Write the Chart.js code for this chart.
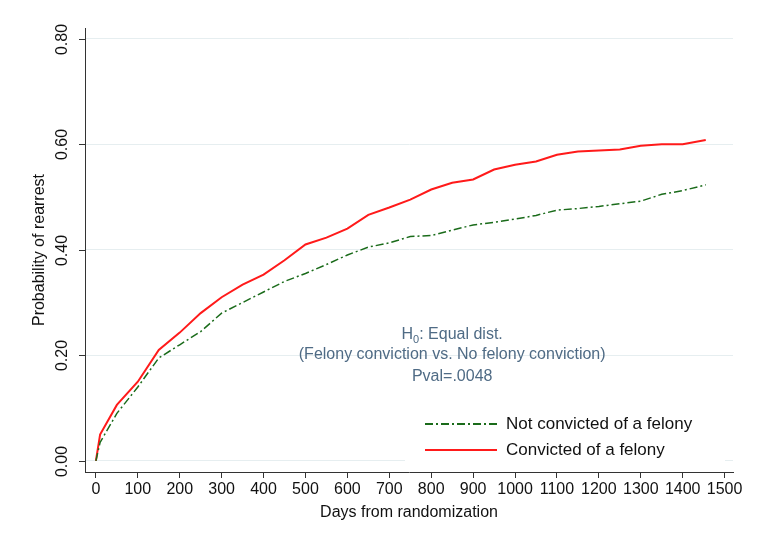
<!DOCTYPE html>
<html><head><meta charset="utf-8">
<script src="https://cdn.jsdelivr.net/npm/chart.js@4"></script>
<style>html,body{margin:0;background:#fff}</style>
</head><body><canvas id="c" width="758" height="544"></canvas>
<script>
const days = [0, 10, 50, 100, 150, 200, 250, 300, 350, 400, 450, 500, 550, 600, 650, 700, 750, 800, 850, 900, 950, 1000, 1050, 1100, 1150, 1200, 1250, 1300, 1350, 1400, 1455];
const felony = [0, 0.05, 0.106, 0.15, 0.21, 0.243, 0.28, 0.31, 0.334, 0.353, 0.38, 0.41, 0.423, 0.44, 0.466, 0.48, 0.495, 0.514, 0.527, 0.533, 0.552, 0.561, 0.567, 0.58, 0.586, 0.588, 0.59, 0.597, 0.6, 0.6, 0.608];
const noFelony = [0, 0.035, 0.09, 0.14, 0.195, 0.22, 0.245, 0.28, 0.3, 0.32, 0.34, 0.355, 0.372, 0.39, 0.405, 0.413, 0.425, 0.427, 0.437, 0.447, 0.452, 0.458, 0.465, 0.475, 0.478, 0.482, 0.487, 0.492, 0.505, 0.512, 0.523];
const yTicks = [0, 0.2, 0.4, 0.6, 0.8];
const xTicks = [0, 100, 200, 300, 400, 500, 600, 700, 800, 900, 1000, 1100, 1200, 1300, 1400, 1500];

const pts = (ys) => days.map((d, i) => ({ x: d, y: ys[i] }));
const font = 'Liberation Sans, Arial, sans-serif';

const overlay = {
  id: 'overlay',
  afterDraw(chart) {
    const ctx = chart.ctx;
    const x = chart.scales.x, y = chart.scales.y;
    ctx.save();
    ctx.fillStyle = '#111';
    ctx.font = '16px ' + font;
    ctx.textAlign = 'center';
    ctx.textBaseline = 'middle';
    // y title, tick marks and tick labels
    const rot = (t, px, py) => {
      ctx.translate(px, py); ctx.rotate(-Math.PI / 2);
      ctx.fillText(t, 0, 0);
      ctx.setTransform(1, 0, 0, 1, 0, 0);
    };
    rot('Probability of rearrest', 40, 250);
    ctx.strokeStyle = '#333'; ctx.lineWidth = 1;
    yTicks.forEach(v => {
      const py = Math.round(y.getPixelForValue(v)) + 0.5;
      ctx.beginPath(); ctx.moveTo(79, py); ctx.lineTo(85, py); ctx.stroke();
      rot(v.toFixed(2), 63, py);
    });
    // annotation
    ctx.fillStyle = '#4f6b85';
    const cx = x.getPixelForValue(850);
    ctx.fillText('(Felony conviction vs. No felony conviction)', cx, 355);
    ctx.fillText('Pval=.0048', cx, 377);
    const a = 'H', b = ': Equal dist.';
    const wa = ctx.measureText(a).width, wb = ctx.measureText(b).width;
    ctx.font = '11px ' + font;
    const ws = ctx.measureText('0').width;
    const sx = cx - (wa + ws + wb) / 2;
    ctx.textAlign = 'left';
    ctx.font = '16px ' + font;
    ctx.fillText(a, sx, 335);
    ctx.font = '11px ' + font;
    ctx.fillText('0', sx + wa, 340);
    ctx.font = '16px ' + font;
    ctx.fillText(b, sx + wa + ws, 335);
    // legend
    ctx.fillStyle = '#fff';
    ctx.fillRect(405, 403, 320, 66);
    const items = [['Not convicted of a felony', '#1a6b1a', [8, 3, 2, 3], 424], ['Convicted of a felony', '#ff1a1a', [], 450]];
    items.forEach(([t, c, dash, ly]) => {
      ctx.strokeStyle = c; ctx.lineWidth = 2; ctx.setLineDash(dash);
      ctx.beginPath(); ctx.moveTo(425, ly); ctx.lineTo(497, ly); ctx.stroke();
      ctx.setLineDash([]);
      ctx.fillStyle = '#111'; ctx.font = '17px ' + font; ctx.textAlign = 'left';
      ctx.fillText(t, 506, ly);
    });
    ctx.restore();
  }
};

new Chart(document.getElementById('c'), {
  type: 'line',
  data: {
    datasets: [
      { label: 'Not convicted of a felony', data: pts(noFelony), borderColor: '#1a6b1a', borderWidth: 1.5, borderDash: [8, 3, 2, 3], pointRadius: 0, fill: false },
      { label: 'Convicted of a felony', data: pts(felony), borderColor: '#ff1a1a', borderWidth: 2, pointRadius: 0, fill: false }
    ]
  },
  options: {
    responsive: false, animation: false, devicePixelRatio: 1,
    layout: { padding: { top: 28, right: 25, left: 0, bottom: 22 } },
    plugins: { legend: { display: false }, tooltip: { enabled: false } },
    scales: {
      x: {
        type: 'linear', min: -26, max: 1520,
        afterBuildTicks: (s) => { s.ticks = xTicks.map(v => ({ value: v })); },
        afterFit: (s) => { s.height = 50; },
        grid: { drawOnChartArea: false, drawTicks: true, tickLength: 6, color: '#333' },
        border: { color: '#333' },
        ticks: { color: '#111', font: { family: font, size: 16 }, maxRotation: 0, autoSkip: false, padding: 2, callback: (v) => String(v) },
        title: { display: true, text: 'Days from randomization', color: '#111', font: { family: font, size: 16 }, padding: 0 }
      },
      y: {
        min: -0.021, max: 0.82,
        afterBuildTicks: (s) => { s.ticks = yTicks.map(v => ({ value: v })); },
        afterFit: (s) => { s.width = 85; },
        grid: { color: '#e6eef0', drawTicks: false },
        border: { color: '#333' },
        ticks: { display: false }
      }
    }
  },
  plugins: [overlay]
});
</script></body></html>
